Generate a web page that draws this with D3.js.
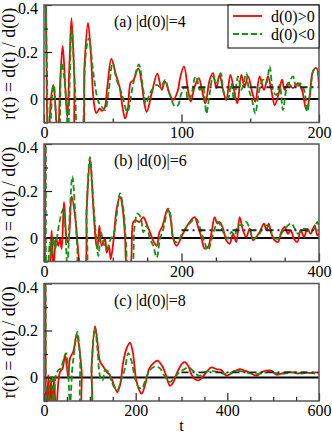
<!DOCTYPE html>
<html>
<head>
<meta charset="utf-8">
<script src="https://cdn.jsdelivr.net/npm/d3@7"></script>
<style>
  html, body { margin:0; padding:0; background:#fff; }
  svg text { font-family:"Liberation Serif","Times New Roman","DejaVu Serif",serif; fill:#000; }
  .tick line { stroke:#222; stroke-width:1.2; }
</style>
</head>
<body>
<svg id="chart" width="332" height="433"></svg>
<script>
// ---- data: [t, r(t)] pairs ----
const panelLabels = ['(a) |d(0)|=4', '(b) |d(0)|=6', '(c) |d(0)|=8'];
const tMax = [200, 400, 600];
const majorStep = [100, 200, 200];
const minorStep = [50, 50, 50];
const plateauLevel = [0.05, 0.033, 0.022];
const plateauStart = [100, 200, 300];
const yTicks = [0, 0.2, 0.4];
const yMinor = [-0.1, 0.1, 0.3];
const legendNames = ['d(0)>0', 'd(0)<0'];

const redA = [[0,1],[1.5,0.3],[3,-0.25],[5,0.0],[6.8,0.06],[8.5,-0.05],[10,-0.18],[12,0.1],[13.6,0.226],[15.5,0.05],[17,-0.08],[18.5,0.15],[20,0.344],[22,0.1],[24,-0.2],[27,-0.2],[29.5,0.15],[32,0.324],[34,0.2],[36,0.0],[38,-0.06],[40.5,-0.04],[42,-0.05],[44,-0.04],[46,0.05],[49,0.171],[52,0.11],[55,0.05],[57,-0.03],[59,-0.083],[61,-0.04],[63,0.07],[65,0.08],[68.6,0.13],[71,0.07],[73,-0.02],[74.7,-0.055],[78.3,0.024],[82.4,0.108],[85.6,0.039],[88,0.075],[91.6,0.017],[94,-0.004],[97.5,0.039],[98.7,0.082],[101.8,0.139],[104.7,0.039],[106.7,-0.011],[109.6,0.053],[112.5,0.089],[114.9,0.039],[117.3,-0.019],[120.5,0.082],[122.9,0.11],[125.3,0.046],[127.7,0.103],[130.2,0.039],[132.6,-0.004],[135.5,0.103],[138.2,0.039],[140.6,-0.019],[143.5,0.103],[145.9,0.053],[148.4,0.096],[151.3,0.032],[153.7,-0.011],[156.8,0.096],[160,0.039],[162.9,0.096],[165.3,0.039],[167.8,-0.026],[170.7,0.024],[173.1,0.082],[175,0.039],[177.5,0.067],[181.1,0.046],[184.7,0.067],[187.6,0.039],[190.8,-0.047],[193.2,0.01],[195.6,0.118],[198.1,0.132],[200,0.05]];
const greenA = [[0,1],[2,0.2],[3.5,-0.25],[6,0.02],[7.2,0.06],[9,-0.1],[11,-0.2],[12.8,0.154],[14.5,0.1],[16,0.0],[17.5,-0.15],[18.8,0.1],[20.1,0.298],[22.5,0.05],[25,-0.25],[28,-0.15],[30.5,0.2],[32.7,0.258],[35.9,0.11],[39.5,-0.01],[42,-0.033],[44.4,-0.047],[46.8,0.024],[50,0.157],[52.8,0.082],[56.5,0.024],[60.6,-0.055],[65,0.068],[69,0.147],[72.2,0.039],[74.2,-0.019],[77,0.024],[80,0.05],[82,0.06],[85,0.05],[88,0.08],[91,0.03],[95,-0.03],[97.5,-0.026],[99.9,0.024],[102.8,0.053],[104.7,-0.004],[107.1,0.017],[109.6,0.089],[110.8,0.096],[113.2,0.039],[115.6,0.053],[118.1,-0.062],[120.5,0.024],[122.9,0.096],[125.3,0.067],[128.5,0.11],[130.9,0.024],[133.8,0.003],[136.2,0.067],[138.2,-0.004],[141.1,0.096],[143.5,0.039],[147.2,0.11],[148.8,0.046],[151.3,-0.004],[153.7,-0.062],[156.1,0.024],[159.3,0.082],[161.7,0.067],[164.1,0.139],[166.5,0.039],[169,0.017],[171.4,0.06],[173.8,-0.047],[176.2,0.039],[178.7,0.075],[181.1,0.096],[183.5,0.046],[186,0.067],[189.1,0.039],[191.5,-0.054],[194,0.053],[196.4,0.125],[198.8,0.118],[200,0.09]];

const redB = [[0,1],[2,0.4],[3.5,-0.2],[7.8,-0.15],[11.2,0.032],[13.6,-0.15],[17.5,-0.004],[20.8,-0.033],[23.3,-0.004],[25.7,-0.047],[29.1,0.154],[33,-0.004],[35.4,-0.019],[40.2,0.176],[45.1,0.096],[49.9,-0.062],[53.3,-0.15],[58.2,-0.15],[62.1,0.125],[66.9,0.334],[71.8,0.125],[75.6,-0.019],[77.6,-0.047],[80.5,0.053],[83.9,-0.033],[88.7,-0.004],[91.2,-0.062],[94.5,-0.033],[97,-0.09],[100.8,-0.019],[105.7,0.125],[110.5,0.176],[114.4,0.125],[117.8,0.01],[121.2,-0.12],[125.1,-0.12],[129.9,0.068],[133.8,0.075],[138.7,0.068],[144.5,0.089],[149.3,0.06],[154.2,0.024],[159,-0.012],[163.9,-0.033],[167.8,0.024],[172.6,0.053],[179.9,0.125],[184.2,0.082],[188.1,-0.004],[193,-0.033],[199.7,0.004],[204.6,0.033],[211.9,0.068],[219.1,0.089],[224,0.047],[228.8,0.004],[233.7,-0.045],[238.5,-0.038],[243.4,0.018],[248.2,0.089],[252.1,0.061],[255.5,0.068],[260.4,0.04],[265.2,-0.01],[270.1,-0.024],[274.9,0.018],[279.7,-0.017],[284.6,0.089],[289.4,0.033],[294.3,0.004],[299.1,0.04],[304,-0.01],[308.8,0.004],[313.7,0.026],[320,0.061],[323.4,0.033],[326.8,0.061],[330.7,0.018],[335.5,-0.01],[340.4,-0.017],[345.2,0.026],[350.1,0.047],[354.9,0.018],[358.8,0.033],[363.6,-0.003],[368.5,-0.017],[373.3,0.033],[378.2,0.004],[383,0.04],[387.9,0.018],[393.7,0.054],[397.6,0.011],[400,0.02]];
const greenB = [[0,1],[2.5,0.4],[4,-0.2],[8.7,-0.02],[11,-0.08],[13.6,0.0],[16,-0.047],[20.8,0.039],[24.7,0.096],[28.1,0.125],[30.5,0.068],[33.9,-0.12],[37.8,0.125],[41.2,0.262],[45.1,0.125],[48.5,-0.047],[51.4,-0.15],[59.6,-0.15],[62.1,0.125],[66.9,0.344],[71.8,0.154],[75.6,0.01],[79,-0.076],[82.9,0.024],[86.3,-0.019],[91.2,-0.047],[97,-0.004],[100.8,0.01],[105.7,0.096],[110.5,0.19],[115.4,0.125],[119.3,-0.019],[122.7,-0.12],[127.5,-0.12],[131.4,0.039],[135.8,0.104],[140.6,0.089],[144.5,0.024],[149.3,0.053],[154.2,-0.004],[159,-0.033],[163.9,-0.083],[168.7,-0.004],[173.6,0.039],[180.8,0.125],[184.2,0.096],[188.1,-0.004],[193,-0.019],[202.2,0.026],[209.4,0.054],[216.7,0.075],[221.6,0.082],[226.4,0.047],[232.7,-0.01],[238.5,-0.052],[243.4,-0.01],[248.2,0.04],[253.1,0.068],[257.9,0.047],[262.8,0.011],[267.6,-0.003],[272.5,0.026],[277.3,0.011],[282.2,0.054],[289.4,0.054],[294.3,0.068],[299.1,0.04],[304,-0.003],[308.8,0.004],[313.7,0.018],[318.5,0.047],[323.4,0.054],[328.2,0.047],[333.1,0.004],[340.4,-0.003],[345.2,0.018],[352.5,0.047],[359.8,0.061],[364.6,0.04],[369.4,0.018],[374.3,0.033],[379.1,0.04],[385,0.026],[391.3,0.033],[397.6,0.068],[400,0.05]];

const redC = [[0,1],[3,0.4],[5,-0.2],[9.5,0.01],[11.6,-0.15],[15.3,-0.004],[18.9,-0.15],[21.8,0.003],[26.2,-0.15],[31.3,-0.019],[34.9,0.024],[40.7,0.039],[45.8,0.096],[49.5,0.053],[53.1,-0.004],[56.7,0.082],[64,0.111],[71.3,0.183],[77.1,0.125],[82.2,0.024],[85.8,-0.15],[100.4,-0.15],[104,0.053],[111.3,0.219],[116.4,0.154],[122.2,0.068],[129.5,0.046],[136.7,0.024],[144,0.01],[152.7,-0.033],[160,-0.062],[165.8,-0.033],[173.1,0.068],[180.4,0.125],[187.6,0.147],[193.5,0.111],[200.7,-0.004],[208,-0.055],[213.1,-0.069],[220.4,-0.033],[229.8,0.039],[238.5,0.06],[247.3,0.072],[256.7,0.053],[266.2,0.01],[274.9,-0.035],[282.2,-0.02],[289.5,0.017],[296.7,0.046],[302,0.06],[307,0.065],[314.2,0.051],[321.5,0.014],[328.8,-0.007],[337.5,-0.012],[344.8,0],[354.2,0.022],[365.1,0.043],[376,0.036],[386.9,0.032],[397.9,0.007],[405.1,0.014],[416,0.026],[427,0.036],[437.9,0.029],[452.4,0.017],[463.3,0.007],[474.2,0.022],[485.1,0.029],[496,0.029],[506.9,0.012],[517.9,0.017],[528.8,0.022],[543.3,0.022],[554.2,0.017],[565.1,0.022],[579.7,0.019],[594.2,0.022],[600,0.02]];
const greenC = [[0,1],[3.5,0.4],[5.5,-0.2],[13.1,-0.019],[16.7,0.01],[20.4,-0.12],[26.2,0.01],[31.3,0.032],[36.4,0.039],[48,0.104],[53.1,0.01],[56.7,-0.12],[61.8,0.039],[66.2,0.111],[72.7,0.194],[78.5,0.096],[84.4,-0.15],[100.4,-0.15],[104,0.053],[111.3,0.212],[116.4,0.125],[123.6,-0.004],[128,-0.012],[133.1,0.032],[140.4,0.024],[147.6,-0.019],[154.9,-0.047],[160,-0.055],[169.5,-0.004],[176.7,0.039],[184,0.104],[191.3,0.068],[198.5,-0.004],[205.8,-0.04],[213.1,-0.047],[222.5,-0.004],[231.3,0.032],[242.2,0.046],[253.1,0.039],[264,0.003],[274.9,-0.019],[285.8,0.003],[296.7,0.024],[307,0.036],[314.2,0.043],[325.1,0.029],[332.4,0.014],[339.7,0.007],[350.6,0.022],[361.5,0.029],[372.4,0.026],[383.3,0.022],[394.2,0.014],[405.1,0.017],[416,0.029],[430.6,0.026],[445.1,0.02],[459.7,0.014],[474.2,0.017],[488.8,0.023],[503.3,0.02],[517.9,0.016],[532.4,0.019],[547,0.022],[561.5,0.017],[576,0.02],[594.2,0.017],[600,0.02]];

const redSeries = [redA, redB, redC];
const greenSeries = [greenA, greenB, greenC];

// ---- layout ----
const RED = '#ff0000', GREEN = '#129412';
const SERIF = '"Liberation Serif","Times New Roman","DejaVu Serif",serif';
const left = 44, right = 319;
const panelTops = [5, 144, 283.5];
const panelH = 117.5;

const svg = d3.select('#chart');

panelTops.forEach((top, i) => {
  const x = d3.scaleLinear().domain([0, tMax[i]]).range([left, right]);
  const y = d3.scaleLinear().domain([-0.1, 0.4]).range([top + panelH, top]);
  const g = svg.append('g');

  const clipId = 'clip' + i;
  svg.append('clipPath').attr('id', clipId)
    .append('rect').attr('x', left).attr('y', top).attr('width', right - left).attr('height', panelH);

  const plot = g.append('g').attr('clip-path', `url(#${clipId})`);
  const line = d3.line().x(d => x(d[0])).y(d => y(d[1])).curve(d3.curveCatmullRom.alpha(0.5));

  plot.append('line')
    .attr('x1', left).attr('x2', right).attr('y1', y(0)).attr('y2', y(0))
    .attr('stroke', '#000').attr('stroke-width', 2);

  plot.append('path').datum(redSeries[i]).attr('d', line)
    .attr('fill', 'none').attr('stroke', RED).attr('stroke-width', 1.8);
  plot.append('path').datum(greenSeries[i]).attr('d', line)
    .attr('fill', 'none').attr('stroke', GREEN).attr('stroke-width', 1.8)
    .attr('stroke-dasharray', '6,3');

  plot.append('line')
    .attr('x1', x(plateauStart[i])).attr('x2', right)
    .attr('y1', y(plateauLevel[i])).attr('y2', y(plateauLevel[i]))
    .attr('stroke', '#222').attr('stroke-width', 1.8)
    .attr('stroke-dasharray', '7,4,2,4');

  // axes (ticks point inward)
  const xMajor = d3.range(0, tMax[i] + 1, majorStep[i]);
  const xMinor = d3.range(0, tMax[i] + 1, minorStep[i]).filter(v => !xMajor.includes(v));
  g.append('g').attr('transform', `translate(0,${top + panelH})`)
    .call(d3.axisBottom(x).tickValues(xMinor).tickSize(-4).tickFormat(''))
    .call(a => a.select('.domain').remove());
  g.append('g').attr('transform', `translate(0,${top + panelH})`)
    .call(d3.axisBottom(x).tickValues(xMajor).tickSize(-8).tickPadding(4).tickFormat(d3.format('d')))
    .call(a => a.select('.domain').remove())
    .attr('font-family', SERIF).attr('font-size', 16);

  g.append('g').attr('transform', `translate(${left},0)`)
    .call(d3.axisLeft(y).tickValues(yMinor).tickSize(-4).tickFormat(''))
    .call(a => a.select('.domain').remove());
  g.append('g').attr('transform', `translate(${left},0)`)
    .call(d3.axisLeft(y).tickValues(yTicks).tickSize(-8).tickPadding(6).tickFormat(d => d === 0 ? '0' : d3.format('.1f')(d)))
    .call(a => a.select('.domain').remove())
    .attr('font-family', SERIF).attr('font-size', 16)
    .call(a => a.selectAll('.tick text').filter(d => d === 0.4).attr('dy', '0.55em'));

  g.append('rect')
    .attr('x', left).attr('y', top).attr('width', right - left).attr('height', panelH)
    .attr('fill', 'none').attr('stroke', '#555').attr('stroke-width', 1.5);

  g.append('text')
    .attr('x', 114).attr('y', top + 22)
    .attr('font-size', 16)
    .text(panelLabels[i]);

  g.append('text')
    .attr('transform', `translate(15,${top + panelH / 2}) rotate(-90)`)
    .attr('text-anchor', 'middle')
    .attr('font-size', 18)
    .text('r(t) = d(t) / d(0)');
});

// x label
svg.append('text')
  .attr('x', (left + right) / 2).attr('y', 431)
  .attr('text-anchor', 'middle').attr('font-size', 16)
  .text('t');

// legend in panel (a)
const lg = svg.append('g');
lg.append('rect').attr('x', 228).attr('y', 5).attr('width', 91).attr('height', 43)
  .attr('fill', '#fff').attr('stroke', '#000').attr('stroke-width', 1);
[RED, GREEN].forEach((c, k) => {
  const ly = 16 + k * 18;
  lg.append('line').attr('x1', 233).attr('x2', 262).attr('y1', ly).attr('y2', ly)
    .attr('stroke', c).attr('stroke-width', 1.8)
    .attr('stroke-dasharray', k === 1 ? '6,3' : null);
  lg.append('text').attr('x', 271).attr('y', ly).attr('dy', '0.35em')
    .attr('font-size', 16).text(legendNames[k]);
});
</script>
</body>
</html>
